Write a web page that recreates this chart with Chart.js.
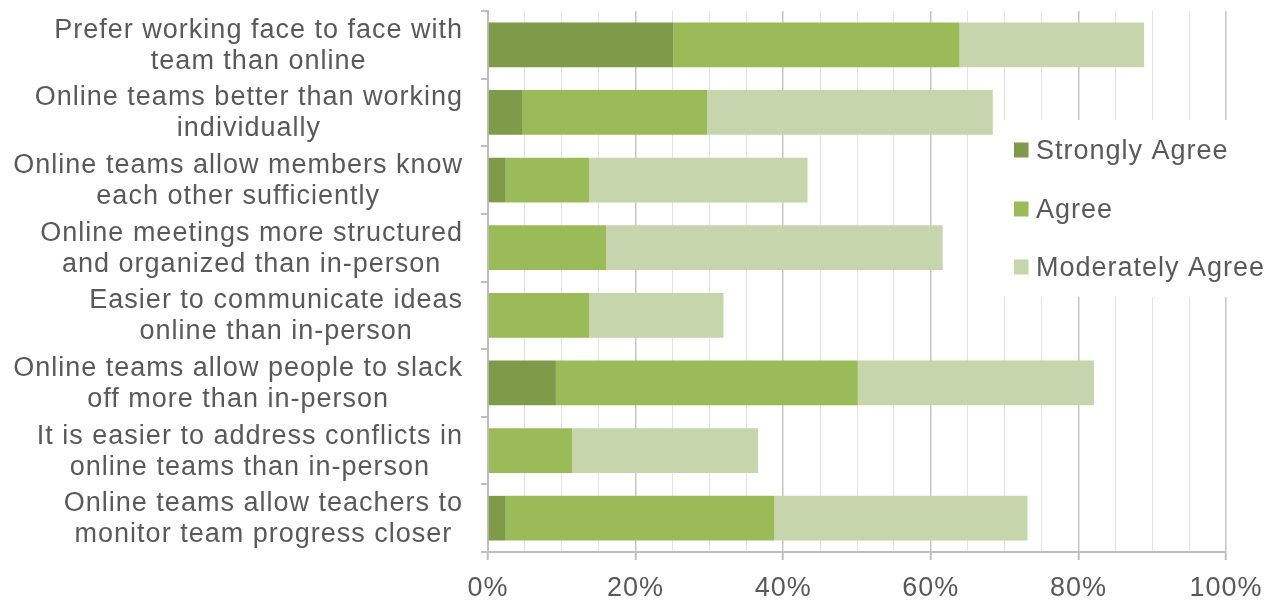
<!DOCTYPE html>
<html>
<head>
<meta charset="utf-8">
<script src="https://cdn.jsdelivr.net/npm/chart.js@4.4.1/dist/chart.umd.min.js"></script>
<style>
html,body{margin:0;padding:0;background:#fff;}
#wrap{width:1277px;height:601px;}
</style>
</head>
<body>
<div id="wrap"><canvas id="c" width="1277" height="601"></canvas></div>
<script>
const categories = [
  ["Prefer working face to face with", "team than online"],
  ["Online teams better than working", "individually"],
  ["Online teams allow members know", "each other sufficiently"],
  ["Online meetings more structured", "and organized than in-person"],
  ["Easier to communicate ideas", "online than in-person"],
  ["Online teams allow people to slack", "off more than in-person"],
  ["It is easier to address conflicts in", "online teams than in-person"],
  ["Online teams allow teachers to", "monitor team progress closer"]
];
const stronglyAgree   = [25.1, 4.7, 2.4, 0, 0, 9.2, 0, 2.4];
const agree           = [38.8, 25.0, 11.3, 16.0, 13.7, 40.9, 11.4, 36.4];
const moderatelyAgree = [25.0, 38.7, 29.6, 45.6, 18.2, 32.0, 25.2, 34.3];
const seriesNames = ["Strongly Agree", "Agree", "Moderately Agree"];
const xTickLabels = ["0%", "20%", "40%", "60%", "80%", "100%"];

const FONT = '"Liberation Sans", Arial, sans-serif';
const TEXT = '#595959';
const SP = '1px';
const FS = 27;
const colors = ['#7f9a48', '#9bbb59', '#c6d5ab'];

Chart.defaults.font.family = FONT;
Chart.defaults.color = TEXT;

const spacingPlugin = {
  id: 'spacing',
  beforeDraw(chart) { chart.ctx.letterSpacing = SP; }
};

const yLabelPlugin = {
  id: 'yLabels',
  afterDraw(chart) {
    const ctx = chart.ctx, y = chart.scales.y;
    ctx.save();
    ctx.letterSpacing = SP;
    ctx.font = FS + 'px ' + FONT;
    ctx.fillStyle = TEXT;
    ctx.textBaseline = 'middle';
    ctx.textAlign = 'center';
    const right = 463;
    categories.forEach((lines, i) => {
      const cy = y.getPixelForValue(i) + 1;
      const w = Math.max(...lines.map(l => ctx.measureText(l).width));
      const cx = right - w / 2;
      const lh = 31;
      const start = cy - (lines.length - 1) * lh / 2;
      lines.forEach((l, k) => ctx.fillText(l, cx, start + k * lh));
    });
    ctx.restore();
  }
};

const legendPlugin = {
  id: 'boxLegend',
  beforeDatasetsDraw(chart) {
    const ctx = chart.ctx;
    ctx.save();
    ctx.fillStyle = '#fff';
    ctx.fillRect(1000, 120, 277, 177);
    ctx.restore();
  },
  afterDraw(chart) {
    const ctx = chart.ctx;
    ctx.save();
    ctx.letterSpacing = SP;
    ctx.font = FS + 'px ' + FONT;
    ctx.textBaseline = 'middle';
    ctx.textAlign = 'left';
    const ys = [150, 209, 267];
    chart.data.datasets.forEach((ds, i) => {
      ctx.fillStyle = ds.backgroundColor;
      ctx.fillRect(1014, ys[i] - 7.5, 14.5, 15);
      ctx.fillStyle = TEXT;
      ctx.fillText(ds.label, 1036, ys[i] + 2);
    });
    ctx.restore();
  }
};

new Chart(document.getElementById('c'), {
  type: 'bar',
  data: {
    labels: categories.map(c => c.join(' ')),
    datasets: [
      { label: seriesNames[0], data: stronglyAgree, backgroundColor: colors[0] },
      { label: seriesNames[1], data: agree, backgroundColor: colors[1] },
      { label: seriesNames[2], data: moderatelyAgree, backgroundColor: colors[2] }
    ]
  },
  options: {
    indexAxis: 'y',
    responsive: false,
    animation: false,
    layout: { padding: { top: 11, right: 51, left: 0, bottom: 0 } },
    datasets: { bar: { barPercentage: 0.66, categoryPercentage: 1.0 } },
    plugins: { legend: { display: false }, tooltip: { enabled: false } },
    scales: {
      x: {
        stacked: true,
        min: 0, max: 100,
        afterFit(s) { s.height = 49; },
        ticks: {
          stepSize: 5,
          autoSkip: false,
          maxRotation: 0,
          padding: 12,
          font: { size: FS },
          color: TEXT,
          callback: (v) => (v % 20 === 0 ? xTickLabels[v / 20] : '')
        },
        grid: {
          color: (c) => (c.tick && c.tick.value % 20 === 0 ? '#c6c6c6' : '#e3e3e3'),
          lineWidth: (c) => (c.tick && c.tick.value % 20 === 0 ? 1.5 : 1),
          tickColor: (c) => (c.tick && c.tick.value % 20 === 0 ? '#bfbfbf' : 'rgba(0,0,0,0)'),
          tickLength: 8,
          tickWidth: 2
        },
        border: { color: '#bfbfbf', width: 2 }
      },
      y: {
        stacked: true,
        afterFit(s) { s.width = 488; },
        ticks: { display: false },
        grid: {
          offset: true,
          drawOnChartArea: false,
          tickLength: 7,
          color: '#bfbfbf',
          lineWidth: 2
        },
        border: { color: '#bfbfbf', width: 2 }
      }
    }
  },
  plugins: [spacingPlugin, yLabelPlugin, legendPlugin]
});
</script>
</body>
</html>
